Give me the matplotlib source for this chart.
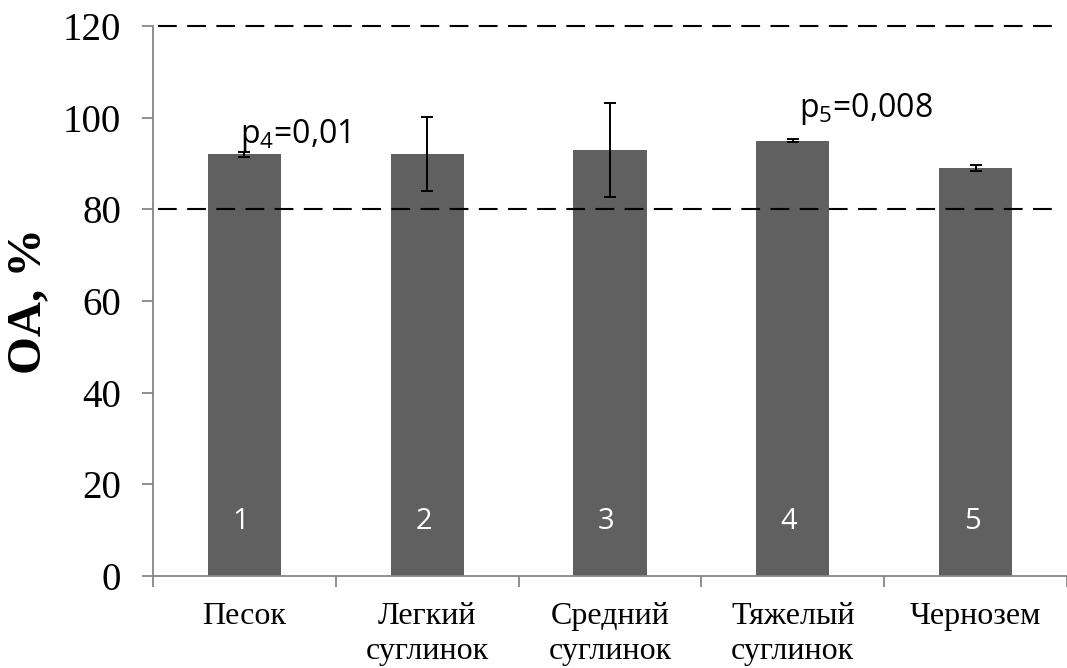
import matplotlib
matplotlib.use("Agg")
import matplotlib.pyplot as plt
import numpy as np

categories = ["Песок", "Легкий\nсуглинок", "Средний\nсуглинок", "Тяжелый\nсуглинок", "Чернозем"]
values = [92.0, 92.0, 93.0, 95.0, 89.0]
errors = [0.6, 8.1, 10.3, 0.35, 0.7]
bar_numbers = ["1", "2", "3", "4", "5"]
reference_levels = [80, 120]
yticks = [0, 20, 40, 60, 80, 100, 120]
p_labels = [r"p$_\mathrm{4}$=0,01", r"p$_\mathrm{5}$=0,008"]
p_label_bars = [0, 3]

plt.rcParams["mathtext.fontset"] = "custom"
plt.rcParams["mathtext.rm"] = "Open Sans"

serif = "Liberation Serif"
sans = "Open Sans"
axis_gray = "#868686"

fig = plt.figure(figsize=(10.67, 6.68), dpi=100)
ax = fig.add_axes([0.1434, 0.1377, 0.8566, 0.8234])

x = np.arange(len(categories))
ax.bar(x, values, width=0.40, color="#606060", zorder=2)
ax.errorbar(x, values, yerr=errors, fmt="none", ecolor="black",
            elinewidth=1.4, capsize=4.5, capthick=1.4, zorder=3)

for lvl in reference_levels:
    ax.axhline(lvl, color="black", lw=1.5, dashes=(9, 5), zorder=4,
               xmin=0.005, xmax=0.992, clip_on=False)

ax.set_xlim(-0.5, 4.5)
ax.set_ylim(0, 120)

for xi, lab in zip(x, bar_numbers):
    ax.text(xi - 0.02, 11.8, lab, color="white", fontsize=21, family=sans,
            ha="center", va="center", zorder=5)

p_y = [94.5, 100.1]
p_dx = [-0.025, 0.035]
for lab, bi, yy, dx in zip(p_labels, p_label_bars, p_y, p_dx):
    ax.text(bi + dx, yy, lab, fontsize=23, family=sans, ha="left",
            va="baseline", zorder=6)

for side in ["top", "right"]:
    ax.spines[side].set_visible(False)
for side in ["left", "bottom"]:
    ax.spines[side].set_color(axis_gray)
    ax.spines[side].set_linewidth(1.3)

ax.set_yticks(yticks)
ax.set_yticklabels([str(t) for t in yticks], fontsize=28, family=serif)
ax.tick_params(axis="y", direction="out", length=8, width=1.3,
               color=axis_gray, pad=15)

ax.set_xticks(np.arange(-0.5, 5.0, 1.0), minor=False)
ax.set_xticklabels([])
ax.tick_params(axis="x", which="major", direction="out", length=8,
               width=1.3, color=axis_gray)
ax.set_xticks(x, minor=True)
ax.set_xticklabels(categories, minor=True, fontsize=23, family=serif,
                   linespacing=1.25)
ax.tick_params(axis="x", which="minor", length=0, pad=19)

ax.set_ylabel("OA, %", fontsize=35, family=serif, fontweight="bold",
              labelpad=9)

fig.savefig("out.png", dpi=100)
